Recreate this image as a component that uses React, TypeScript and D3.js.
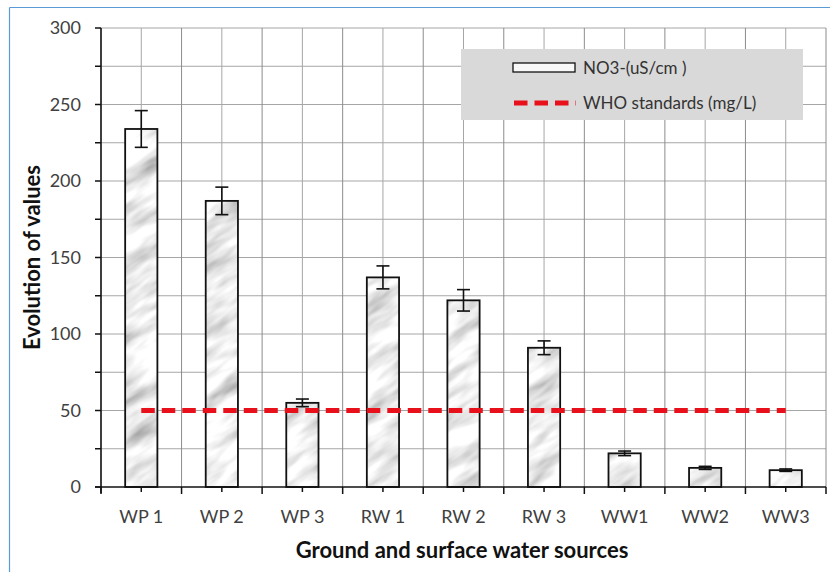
import React from 'react';
import * as d3 from 'd3';

const categories = ['WP 1', 'WP 2', 'WP 3', 'RW 1', 'RW 2', 'RW 3', 'WW1', 'WW2', 'WW3'];
const no3Values = [234, 187, 55, 137, 122, 91, 22, 12.5, 11];
const no3Errors = [12, 9, 2.5, 7.5, 7, 4.5, 1.5, 1, 0.8];
const whoValues = [50, 50, 50, 50, 50, 50, 50, 50, 50];
const yTickLabels = [0, 50, 100, 150, 200, 250, 300];
const yMinorTicks = [25, 75, 125, 175, 225, 275];

const FONT = 'Lato, "Open Sans", sans-serif';

const App = () => {
  const width = 830;
  const height = 572;
  const left = 101;
  const right = 826;
  const top = 28;
  const bottom = 487;

  const x = d3.scaleBand<string>().domain(categories).range([left, right]).padding(0);
  const y = d3.scaleLinear().domain([0, 300]).range([bottom, top]);
  const bw = x.bandwidth();
  const barW = bw * 0.4;
  const center = (c: string) => (x(c) as number) + bw / 2;

  const boundaries = d3.range(categories.length + 1).map((i) => left + i * bw);
  const allY = d3.range(25, 301, 25);

  const whoLine = d3.line<number>()
    .x((_, i) => center(categories[i]))
    .y((d) => y(d));

  return (
    <div style={{ position: 'absolute', left: 0, top: 0 }}>
      <svg width={width} height={height} style={{ display: 'block', background: '#fff' }}>
        <defs>
          <filter id="marble" x="0" y="0" width="100%" height="100%">
            <feTurbulence type="fractalNoise" baseFrequency="0.02 0.07" numOctaves={3} seed={7} />
            <feColorMatrix
              type="matrix"
              values="1.1 0 0 0 0.3  1.1 0 0 0 0.3  1.1 0 0 0 0.3  0 0 0 0 1"
            />
          </filter>
          <pattern id="marbleFill" patternUnits="userSpaceOnUse" x="-400" y="-400" width="1800" height="1800"
            patternTransform="rotate(-35)">
            <rect width="1800" height="1800" filter="url(#marble)" />
          </pattern>
        </defs>

        {/* outer frame */}
        <line x1={9.5} y1={7.5} x2={width} y2={7.5} stroke="#5b9bd5" strokeWidth={1.2} />
        <line x1={9.5} y1={7.5} x2={9.5} y2={height} stroke="#5b9bd5" strokeWidth={1.2} />

        {/* grid */}
        <g stroke="#a6a6a6" strokeWidth={1}>
          {allY.map((v) => (
            <line key={'h' + v} x1={left} x2={right} y1={y(v)} y2={y(v)} />
          ))}
          {boundaries.map((b, i) => (
            <line key={'vb' + i} x1={b} x2={b} y1={top} y2={bottom} stroke="#8c8c8c" />
          ))}
          {categories.map((c) => (
            <line key={'vc' + c} x1={center(c)} x2={center(c)} y1={top} y2={bottom} />
          ))}
        </g>

        {/* bars */}
        {categories.map((c, i) => (
          <g key={'bar' + c}>
            <rect x={center(c) - barW / 2} y={y(no3Values[i])} width={barW}
              height={bottom - y(no3Values[i])} fill="url(#marbleFill)" />
            <rect x={center(c) - barW / 2} y={y(no3Values[i])} width={barW}
              height={bottom - y(no3Values[i])} fill="none" stroke="#111" strokeWidth={1.8} />
          </g>
        ))}

        {/* error bars */}
        <g stroke="#111" strokeWidth={1.6}>
          {categories.map((c, i) => {
            const cx = center(c);
            const hi = y(no3Values[i] + no3Errors[i]);
            const lo = y(no3Values[i] - no3Errors[i]);
            return (
              <g key={'err' + c}>
                <line x1={cx} x2={cx} y1={hi} y2={lo} />
                <line x1={cx - 6.5} x2={cx + 6.5} y1={hi} y2={hi} />
                <line x1={cx - 6.5} x2={cx + 6.5} y1={lo} y2={lo} />
              </g>
            );
          })}
        </g>

        {/* WHO line */}
        <path d={whoLine(whoValues) as string} fill="none" stroke="#e8101a" strokeWidth={5}
          strokeDasharray="13.5 7" />

        {/* axes */}
        <g stroke="#111" strokeWidth={1.5}>
          <line x1={left} x2={left} y1={top} y2={bottom + 6} />
          <line x1={left - 6} x2={right} y1={bottom} y2={bottom} />
          {yTickLabels.concat(yMinorTicks).map((v) => (
            <line key={'yt' + v} x1={left - 6} x2={left} y1={y(v)} y2={y(v)} />
          ))}
          {boundaries.map((b, i) => (
            <line key={'xb' + i} x1={b} x2={b} y1={bottom} y2={bottom + 7} />
          ))}
          {categories.map((c) => (
            <line key={'xc' + c} x1={center(c)} x2={center(c)} y1={bottom} y2={bottom + 5} />
          ))}
        </g>

        {/* tick labels */}
        <g fontFamily={FONT} fontSize={18} fill="#404040">
          {yTickLabels.map((v) => (
            <text key={'yl' + v} x={81} y={y(v)} dy="0.35em" textAnchor="end">{v}</text>
          ))}
          {categories.map((c) => (
            <text key={'xl' + c} x={center(c)} y={523} textAnchor="middle">{c}</text>
          ))}
        </g>

        {/* axis titles */}
        <text x={462} y={558} textAnchor="middle" fontFamily={FONT} fontSize={22}
          fontWeight="bold" fill="#111">Ground and surface water sources</text>
        <text transform={`translate(40,${(top + bottom) / 2}) rotate(-90)`} textAnchor="middle"
          fontFamily={FONT} fontSize={22} fontWeight="bold" fill="#111">Evolution of values</text>

        {/* legend */}
        <g>
          <rect x={461} y={49} width={342} height={71} fill="#d9d9d9" />
          <rect x={513} y={63} width={62} height={9} fill="#f8f8f8" stroke="#111" strokeWidth={1.3} />
          <text x={583} y={74} fontFamily={FONT} fontSize={17} fill="#333">NO3-(uS/cm )</text>
          <line x1={514} x2={576} y1={103} y2={103} stroke="#e8101a" strokeWidth={5}
            strokeDasharray="13.5 7" />
          <text x={583} y={109} fontFamily={FONT} fontSize={17} fill="#333">WHO standards (mg/L)</text>
        </g>
      </svg>
    </div>
  );
};

export default App;
